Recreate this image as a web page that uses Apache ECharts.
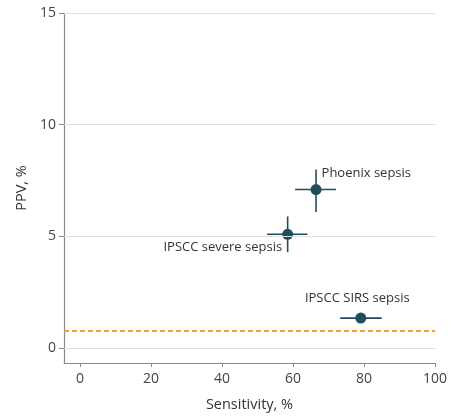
<!DOCTYPE html>
<html>
<head>
<meta charset="utf-8">
<script src="https://cdn.jsdelivr.net/npm/echarts@6/dist/echarts.min.js"></script>
<style>html,body{margin:0;padding:0;background:#fff}#c{width:450px;height:417px}</style>
</head>
<body>
<div id="c"></div>
<script>
var names = ['Phoenix sepsis', 'IPSCC severe sepsis', 'IPSCC SIRS sepsis'];
var sens = [66.5, 58.5, 79.1];
var sensLo = [60.6, 52.7, 73.3];
var sensHi = [72.1, 64.1, 85.0];
var ppv = [7.1, 5.1, 1.35];
var ppvLo = [6.1, 4.3, 1.2];
var ppvHi = [8.0, 5.9, 1.5];
var baselinePPV = 0.8;
var xTicks = [0, 20, 40, 60, 80, 100];
var yTicks = [0, 5, 10, 15];

var FONT = '"Open Sans", "Liberation Sans", sans-serif';
var dark = '#1f4d5c';
var labelPos = [
  {position: [11, -11], align: 'left'},
  {position: [0, 19], align: 'right'},
  {position: [2, -14], align: 'center'}
];

var pts = names.map(function (n, i) {
  var lp = labelPos[i];
  return {
    name: n,
    value: [sens[i], ppv[i]],
    label: {show: true, formatter: n, position: lp.position, align: lp.align, verticalAlign: 'middle'}
  };
});
var ebData = names.map(function (n, i) {
  return [sens[i], ppv[i], sensLo[i], sensHi[i], ppvLo[i], ppvHi[i]];
});

var chart = echarts.init(document.getElementById('c'), null, {renderer: 'canvas'});
chart.setOption({
  animation: false,
  grid: {left: 64, right: 14, top: 13, bottom: 51, containLabel: false},
  xAxis: {
    type: 'value', min: -4.5, max: 100,
    name: 'Sensitivity, %', nameLocation: 'middle', nameGap: 34,
    nameTextStyle: {fontFamily: FONT, fontSize: 14.5, color: '#333'},
    axisLine: {show: true, onZero: false, lineStyle: {color: '#8a8a8a', width: 1.2}},
    axisTick: {show: true, length: 4, customValues: xTicks, lineStyle: {color: '#8a8a8a'}},
    axisLabel: {customValues: xTicks, margin: 9, fontFamily: FONT, fontSize: 14, color: '#444'},
    splitLine: {show: false}
  },
  yAxis: {
    type: 'value', min: -0.66, max: 15,
    name: 'PPV, %', nameLocation: 'middle', nameGap: 25,
    nameTextStyle: {fontFamily: FONT, fontSize: 14.5, color: '#333'},
    axisLine: {show: true, onZero: false, lineStyle: {color: '#8a8a8a', width: 1.2}},
    axisTick: {show: true, length: 5, customValues: yTicks, lineStyle: {color: '#8a8a8a'}},
    axisLabel: {customValues: yTicks, margin: 8, fontFamily: FONT, fontSize: 14, color: '#444'},
    splitLine: {show: false}
  },
  series: [
    {
      type: 'line', data: [], silent: true,
      markLine: {
        silent: true, symbol: 'none', label: {show: false},
        lineStyle: {color: '#dedede', width: 1, type: 'solid'},
        data: yTicks.map(function (v) { return {yAxis: v}; })
      }
    },
    {
      type: 'line', data: [], silent: true,
      markLine: {
        silent: true, symbol: 'none', label: {show: false},
        lineStyle: {color: '#f0a030', width: 2, type: [5, 3]},
        data: [{yAxis: baselinePPV}]
      }
    },
    {
      type: 'custom', silent: true, z: 3,
      data: ebData,
      renderItem: function (params, api) {
        var c = api.coord([api.value(0), api.value(1)]);
        var xl = api.coord([api.value(2), api.value(1)]);
        var xh = api.coord([api.value(3), api.value(1)]);
        var yl = api.coord([api.value(0), api.value(4)]);
        var yh = api.coord([api.value(0), api.value(5)]);
        var st = {stroke: dark, lineWidth: 1.6};
        return {type: 'group', children: [
          {type: 'line', shape: {x1: xl[0], y1: c[1], x2: xh[0], y2: c[1]}, style: st},
          {type: 'line', shape: {x1: c[0], y1: yl[1], x2: c[0], y2: yh[1]}, style: st}
        ]};
      }
    },
    {
      type: 'scatter', z: 4, symbolSize: 11,
      itemStyle: {color: dark, opacity: 1},
      label: {fontFamily: FONT, fontSize: 13, color: '#333'},
      data: pts
    }
  ]
});
</script>
</body>
</html>
